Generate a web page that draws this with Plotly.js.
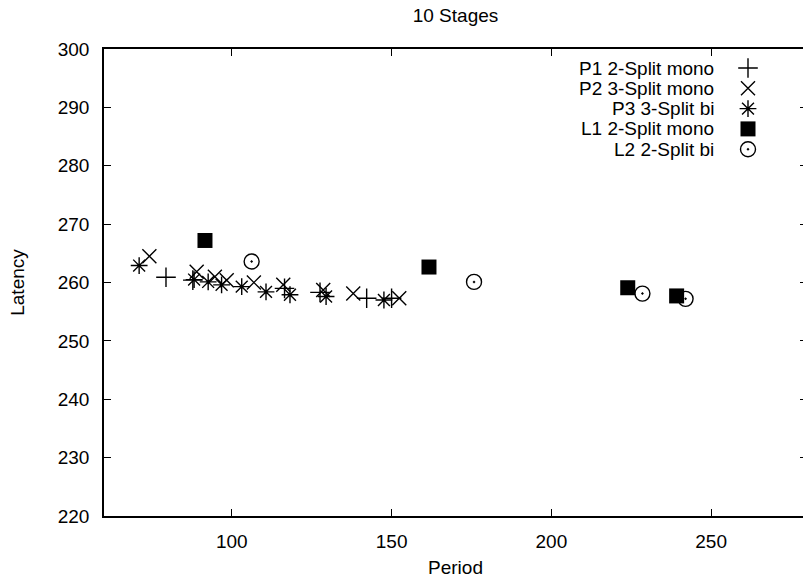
<!DOCTYPE html>
<html>
<head>
<meta charset="utf-8">
<script src="https://cdn.plot.ly/plotly-3.0.1.min.js"></script>
<style>
html,body{margin:0;padding:0;overflow:hidden;background:#fff;}
#chart{width:810px;height:578px;}
</style>
</head>
<body>
<div id="chart"></div>
<script>
// ---- data (Period, Latency) ----
const seriesNames = ["P1 2-Split mono", "P2 3-Split mono", "P3 3-Split bi", "L1 2-Split mono", "L2 2-Split bi"];

const p1Period  = [79.4, 87.8, 116.5, 127.6, 142.2, 150.0];
const p1Latency = [260.9, 260.4, 259.0, 258.3, 257.3, 257.3];

const p2Period  = [74.2, 89.0, 94.7, 98.4, 106.9, 116.1, 128.6, 138.0, 152.4];
const p2Latency = [264.5, 261.85, 261.0, 260.4, 260.0, 259.6, 258.7, 258.1, 257.3];

const p3Period  = [71.0, 88.2, 92.6, 96.8, 103.1, 110.7, 118.2, 129.5, 147.6];
const p3Latency = [262.9, 260.5, 260.1, 259.6, 259.3, 258.4, 257.9, 257.6, 257.0];

const l1Period  = [91.6, 161.7, 223.9, 239.2];
const l1Latency = [267.2, 262.65, 259.1, 257.7];

const l2Period  = [106.2, 175.8, 228.5, 242.0];
const l2Latency = [263.6, 260.1, 258.1, 257.2];

const xTicks = [100, 150, 200, 250];
const yTicks = [220, 230, 240, 250, 260, 270, 280, 290, 300];

// ---- styles ----
const FONT = "Liberation Sans, Arial, sans-serif";
const FS = 19;
const styles = [
  {symbol: "cross-thin-open", size: 14, color: "#000", line: {width: 1.4, color: "#000"}},
  {symbol: "x-thin-open",     size: 14, color: "#000", line: {width: 1.4, color: "#000"}},
  {symbol: "asterisk-open",   size: 14, color: "#000", line: {width: 1.4, color: "#000"}},
  {symbol: "square",          size: 15, color: "#000", line: {width: 0}},
  {symbol: "circle-open-dot", size: 15, color: "#000", line: {width: 1.4, color: "#000"}}
];
const xs = [p1Period, p2Period, p3Period, l1Period, l2Period];
const ys = [p1Latency, p2Latency, p3Latency, l1Latency, l2Latency];

const traces = xs.map((x, i) => ({
  type: "scatter", mode: "markers", x: x, y: ys[i],
  name: seriesNames[i], marker: styles[i], showlegend: false,
  hoverinfo: "x+y"
}));

// legend keys drawn on an overlay pixel-like axis pair
const keyX = 748, textX = 716, rowY0 = 68, rowStep = 20.3;
const keyRows = seriesNames.map((_, i) => rowY0 + i * rowStep);
seriesNames.forEach((n, i) => {
  traces.push({
    type: "scatter", mode: "markers", x: [keyX], y: [keyRows[i]],
    xaxis: "x2", yaxis: "y2", marker: styles[i], showlegend: false, hoverinfo: "skip"
  });
});
const annotations = seriesNames.map((n, i) => ({
  text: n, xref: "x2", yref: "y2", x: textX, y: keyRows[i],
  xanchor: "right", yanchor: "middle", showarrow: false,
  font: {family: FONT, size: FS, color: "#000"}
}));

const layout = {
  width: 810, height: 578,
  margin: {l: 104, r: 3, t: 49, b: 62},
  paper_bgcolor: "#fff", plot_bgcolor: "#fff",
  font: {family: FONT, size: FS, color: "#000"},
  title: {text: "10 Stages", x: 0.5, xref: "paper", y: 1 - 15/578, yref: "container",
          yanchor: "middle", font: {family: FONT, size: FS, color: "#000"}},
  xaxis: {
    range: [60, 280], tickvals: xTicks, ticks: "inside", ticklen: 7, tickwidth: 1,
    tickcolor: "#000", showline: true, linecolor: "#000", linewidth: 1.8, mirror: "ticks",
    showgrid: false, zeroline: false, ticklabelstandoff: 7,
    title: {text: "Period", standoff: 10, font: {family: FONT, size: FS}}
  },
  yaxis: {
    range: [220, 300], tickvals: yTicks, ticks: "inside", ticklen: 7, tickwidth: 1,
    tickcolor: "#000", showline: true, linecolor: "#000", linewidth: 1.8, mirror: "ticks",
    showgrid: false, zeroline: false, ticklabelstandoff: 9,
    title: {text: "Latency", standoff: 28, font: {family: FONT, size: FS}}
  },
  xaxis2: {overlaying: "x", range: [104, 807], visible: false, fixedrange: true},
  yaxis2: {overlaying: "y", range: [516, 49], visible: false, fixedrange: true},
  annotations: annotations,
  showlegend: false
};

Plotly.newPlot("chart", traces, layout, {displayModeBar: false, staticPlot: true});
</script>
</body>
</html>
